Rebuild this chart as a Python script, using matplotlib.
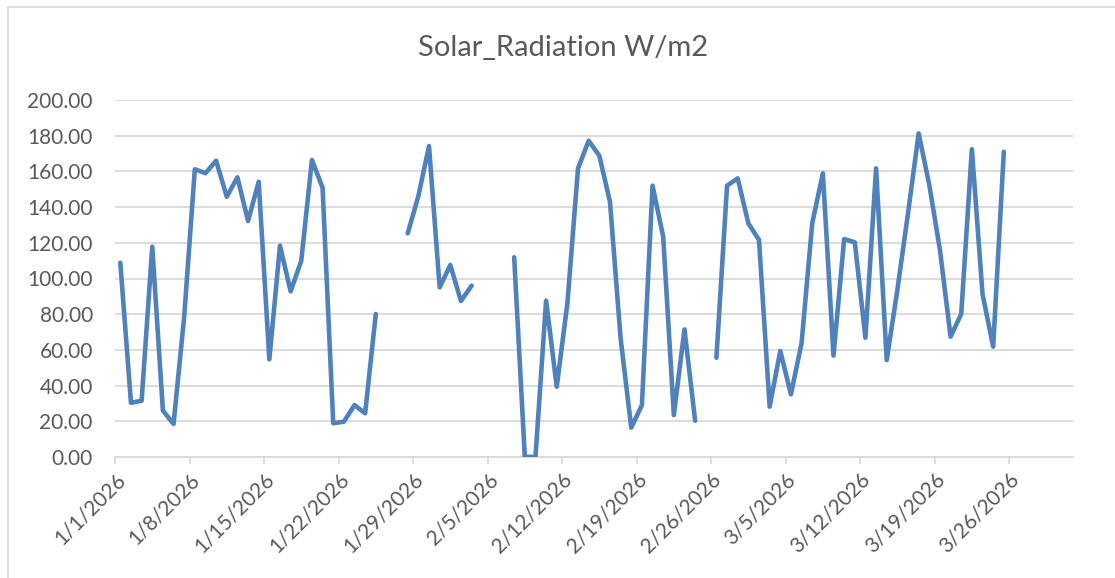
import numpy as np
import pandas as pd
import matplotlib
matplotlib.use("Agg")
import matplotlib.pyplot as plt
import matplotlib.transforms as mtransforms
from matplotlib.lines import Line2D

# daily values 1/1/2026 .. 3/25/2026, nan = missing day
solar = [108.8, 30.4, 31.5, 117.8, 26.0, 18.5, 78.6, 161.2, 159.0, 166.0,
         145.8, 156.7, 132.2, 154.2, 54.7, 118.4, 92.8, 110.0, 166.4, 150.9,
         18.9, 19.8, 29.1, 24.5, 80.1, np.nan, np.nan, 125.3, 146.2, 174.2,
         95.0, 107.6, 87.4, 96.0, np.nan, np.nan, np.nan, 111.9, 0.2, 0.0,
         87.6, 39.4, 86.1, 161.7, 177.2, 168.8, 143.0, 66.5, 16.4, 29.1,
         152.0, 123.4, 23.5, 71.5, 20.3, np.nan, 55.6, 152.0, 156.1, 130.9,
         121.6, 28.2, 59.4, 35.1, 63.7, 130.9, 158.9, 56.8, 122.1, 120.3,
         66.8, 161.7, 54.3, 93.6, 136.5, 181.3, 152.4, 116.0, 67.4, 80.1,
         172.4, 91.3, 61.8, 171.0]
dates = pd.date_range("2026-01-01", periods=len(solar), freq="D")
tick_dates = pd.date_range("2026-01-01", "2026-03-26", freq="7D")
tick_labels = [f"{d.month}/{d.day}/{d.year}" for d in tick_dates]

plt.rcParams['font.family'] = ['Lato', 'DejaVu Sans']
grey = '#595959'
gridc = '#D9D9D9'

fig = plt.figure(figsize=(11.15, 5.78), dpi=100, facecolor='w')
ax = fig.add_axes([115/1115, 1-457/578, 958/1115, 357/578])

# points sit in the middle of each day (Excel date axis)
ax.plot(dates + pd.Timedelta(hours=12), solar, color='#4F81BD', lw=3.3,
        solid_joinstyle='round', solid_capstyle='round', zorder=3)

ax.set_ylim(0, 200)
ax.set_yticks(np.arange(0, 201, 20))
ax.set_yticklabels([f"{v:.2f}" for v in np.arange(0, 201, 20)])
ax.set_xlim(pd.Timestamp("2026-01-01"), pd.Timestamp("2026-04-01"))
ax.set_xticks(tick_dates)
ax.set_xticklabels(tick_labels, rotation=45, ha='right', rotation_mode='anchor')
shift = mtransforms.ScaledTranslation(7/72, -2/72, fig.dpi_scale_trans)
for lab in ax.get_xticklabels():
    lab.set_transform(lab.get_transform() + shift)

ax.grid(axis='y', color=gridc, lw=1.3)
ax.set_axisbelow(True)
for s in ['top', 'right', 'left']:
    ax.spines[s].set_visible(False)
ax.spines['bottom'].set_color(gridc)
ax.spines['bottom'].set_linewidth(1.3)
ax.tick_params(axis='y', length=0, pad=16, labelsize=15, labelcolor=grey)
ax.tick_params(axis='x', length=5, width=1.3, color=gridc, pad=4,
               labelsize=15, labelcolor=grey)

fig.text(0.505, 0.917, 'Solar_Radiation W/m2', ha='center', va='center',
         fontsize=21, color=grey)

# chart area border (left and top edges visible)
fig.lines.append(Line2D([8/1115, 8/1115, 1], [0, 1-7/578, 1-7/578],
                        transform=fig.transFigure, color=gridc, lw=1.2))

fig.savefig('out.png', dpi=100)
